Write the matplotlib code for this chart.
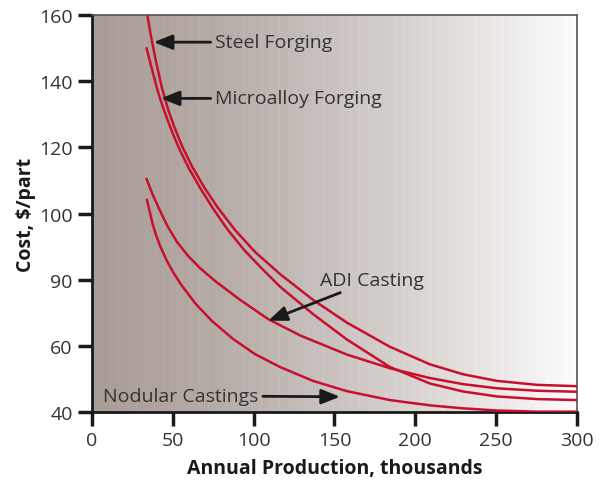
import matplotlib
matplotlib.use('Agg')
import matplotlib.pyplot as plt
import numpy as np

plt.rcParams['font.family'] = ['Open Sans', 'DejaVu Sans']

# Curves (x = thousands/year, y = position on cost axis)
steel_x = [34.0, 36.5, 39.6, 43.3, 47.0, 50.7, 55.7, 61.9, 69.3, 77.9, 88.5, 100.8,
           116.3, 136.7, 157.7, 184.3, 209.1, 229.5, 250.5, 275.3, 300.0]
steel_y = [160.6, 153.6, 145.9, 137.9, 131.6, 126.4, 120.4, 114.2, 108.0, 101.7, 95.0, 88.4,
           81.7, 73.9, 67.0, 59.7, 54.4, 51.4, 49.4, 48.2, 47.8]

micro_x = [33.8, 35.9, 38.4, 40.8, 43.3, 46.4, 50.1, 54.4, 60.0, 66.8, 74.9, 84.1,
           94.6, 105.2, 116.3, 136.7, 157.7, 184.3, 209.1, 229.5, 250.5, 275.3, 300.0]
micro_y = [149.9, 145.9, 141.2, 136.8, 133.0, 128.7, 124.0, 119.1, 113.6, 107.8, 101.5, 95.0,
           88.7, 83.3, 77.9, 69.6, 61.9, 53.6, 48.6, 46.2, 44.7, 43.9, 43.6]

adi_x = [33.8, 37.1, 42.1, 47.0, 52.6, 59.4, 66.8, 76.1, 91.6, 108.9, 128.7, 157.7, 184.3,
         209.1, 229.5, 250.5, 275.3, 300.0]
adi_y = [110.4, 106.2, 100.8, 95.9, 91.4, 87.2, 83.5, 79.6, 73.9, 68.1, 63.15, 57.35, 53.23,
         50.25, 48.42, 47.16, 46.42, 46.12]

nod_x = [34.0, 35.6, 37.4, 39.6, 42.4, 45.8, 50.1, 55.7, 64.3, 74.2, 87.2, 100.8, 116.3,
         136.7, 157.7, 184.3, 209.1, 229.5, 250.5, 275.3, 300.0]
nod_y = [104.1, 100.8, 97.1, 93.5, 89.9, 86.2, 82.3, 78.1, 72.6, 67.5, 62.1, 57.5, 53.6,
         49.4, 46.3, 43.6, 42.0, 41.1, 40.45, 40.1, 40.1]

y_ticks = [40, 60, 80, 100, 120, 140, 160]
y_tick_labels = ['40', '60', '90', '100', '120', '140', '160']
x_ticks = [0, 50, 100, 150, 200, 250, 300]

RED = '#c8102e'
TXT = '#333333'

fig = plt.figure(figsize=(6.08, 4.81), dpi=100)
ax = fig.add_axes([0.1513, 0.1414, 0.7977, 0.8253])
ax.set_xlim(0, 300)
ax.set_ylim(40, 160)

# background gradient, warm grey on the left fading to white on the right
t = np.linspace(0, 1, 600)
c0 = np.array([169, 157, 151]) / 255.0
c1 = np.array([253, 253, 253]) / 255.0
w = t ** 1.35
grad = c0[None, :] * (1 - w[:, None]) + c1[None, :] * w[:, None]
stripe = np.where((np.arange(600) % 11) == 0, 0.022, 0.0)
grad = np.clip(grad + stripe[:, None], 0, 1)
ax.imshow(grad[None, :, :], extent=[0, 300, 40, 160], aspect='auto', zorder=0)

for xs, ys in [(steel_x, steel_y), (micro_x, micro_y), (adi_x, adi_y), (nod_x, nod_y)]:
    ax.plot(xs, ys, color=RED, lw=1.8, solid_joinstyle='round', zorder=3)

arrow = dict(arrowstyle='-|>,head_length=0.8,head_width=0.32', color='#1a1a1a', lw=2,
             shrinkA=1, shrinkB=0)
ax.annotate('Steel Forging', xy=(38.2, 151.8), xytext=(76.0, 151.8), fontsize=14, color=TXT,
            va='center', ha='left', arrowprops=arrow, zorder=4)
ax.annotate('Microalloy Forging', xy=(42.6, 134.8), xytext=(76.0, 134.8), fontsize=14, color=TXT,
            va='center', ha='left', arrowprops=arrow, zorder=4)
ax.annotate('ADI Casting', xy=(109.1, 67.6), xytext=(141.0, 79.8), fontsize=14, color=TXT,
            va='center', ha='left', arrowprops=arrow, zorder=4)
ax.annotate('Nodular Castings', xy=(153.4, 44.6), xytext=(7.0, 44.9), fontsize=14, color=TXT,
            va='center', ha='left', arrowprops=arrow, zorder=4)

ax.set_xticks(x_ticks)
ax.set_yticks(y_ticks)
ax.set_yticklabels(y_tick_labels)
ax.tick_params(axis='both', direction='out', length=10, width=2.5, color='#1a1a1a',
               labelsize=14, labelcolor=TXT, pad=4)

for side in ['left', 'bottom']:
    ax.spines[side].set_linewidth(2)
    ax.spines[side].set_color('#1a1a1a')
for side in ['top', 'right']:
    ax.spines[side].set_linewidth(1.2)
    ax.spines[side].set_color('#555555')

ax.set_xlabel('Annual Production, thousands', fontsize=14, fontweight='bold', color='#1a1a1a', labelpad=6)
ax.set_ylabel('Cost, $/part', fontsize=14, fontweight='bold', color='#1a1a1a', labelpad=2)

fig.savefig('out.png', dpi=100)
